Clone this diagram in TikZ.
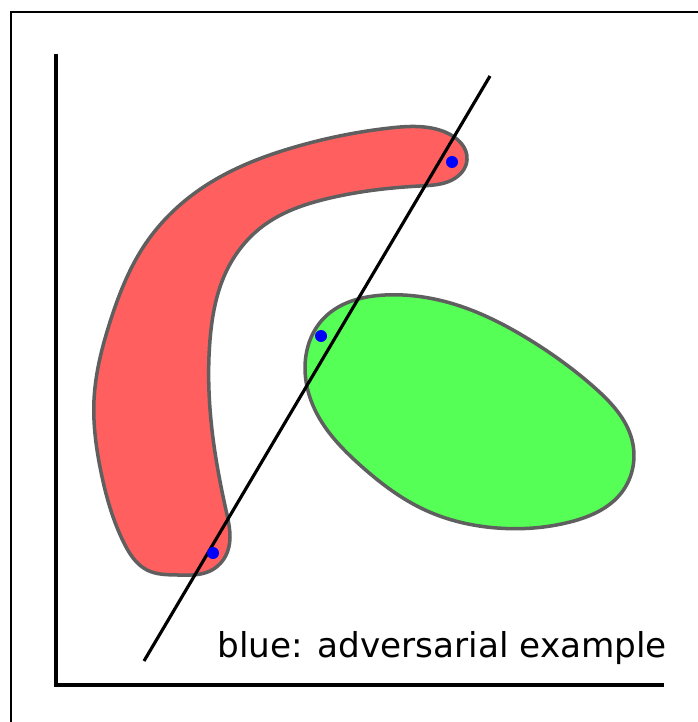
\documentclass[tikz,border=0pt]{standalone}
\usepackage{fontspec}
\setmainfont{DejaVu Sans}
\usepackage{xcolor}
\definecolor{myred}{RGB}{255,95,95}
\definecolor{mygreen}{RGB}{85,255,85}
\definecolor{myedge}{RGB}{95,95,95}
\usetikzlibrary{positioning, hobby}

\begin{document}
\begin{tikzpicture}[
    x=0.02cm, y=-0.02cm,
    region/.style={draw=myedge, line width=2pt, line join=round,
      use Hobby shortcut, closed=true},
    axis/.style={black, line width=2.2pt},
    sep/.style={black, line width=1.8pt},
    adv/.style={circle, fill=blue, inner sep=0pt, minimum size=0.24cm}
]
\useasboundingbox (0,0) rectangle (697,722);
\draw[black, line width=1.5pt] (11,12) rectangle (705,730);

% classes
\draw[region, fill=myred] (467,160) .. (452,180) .. (420,186) .. (330,198)
  .. (263,226) .. (226,272) .. (210,340) .. (212,430) .. (226,510)
  .. (227,553) .. (210,571) .. (178,575) .. (147,570) .. (124,543)
  .. (101,472) .. (94,400) .. (110,322) .. (146,243) .. (205,186)
  .. (295,147) .. (390,128) .. (445,132);
\draw[region, fill=mygreen] (305,368) .. (324,318) .. (385,295) .. (460,306)
  .. (530,340) .. (595,388) .. (632,440) .. (622,492) .. (570,522)
  .. (497,528) .. (425,510) .. (360,465) .. (315,410);

% axes
\coordinate (ytop) at (56,54);
\coordinate (origin) at (56,685);
\coordinate (xend) at (664,685);
\draw[axis] (ytop) -- (origin) -- (xend);

% decision boundary
\coordinate (sa) at (144,661);
\coordinate (sb) at (490,76);
\draw[sep] (sa) -- (sb);

% adversarial points
\node[adv] (p1) at (452,162) {};
\node[adv] (p2) at (321,336) {};
\node[adv] (p3) at (213,553) {};

\node[anchor=base west, inner sep=0pt, font=\fontsize{19.5}{24}\selectfont] (legend) at (217,657) {blue: adversarial example};
\end{tikzpicture}
\end{document}
